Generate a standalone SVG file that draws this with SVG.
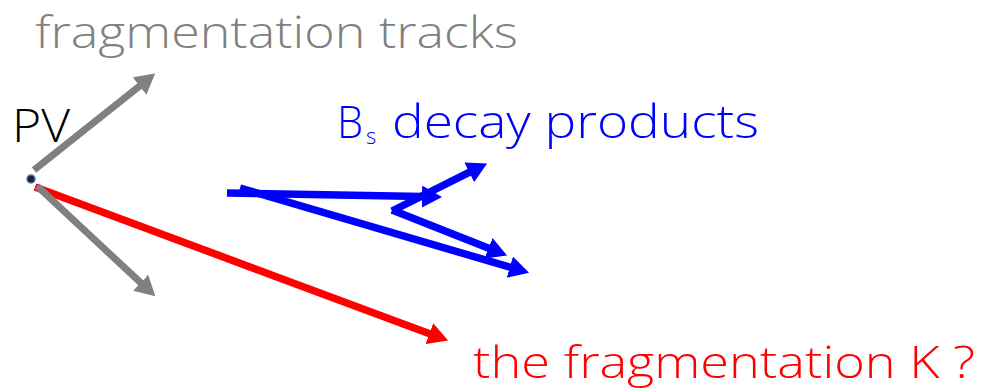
<svg xmlns="http://www.w3.org/2000/svg" width="986" height="391" viewBox="0 0 986 391">
<style>
text{font-family:"Open Sans","Liberation Sans",Arial,sans-serif;font-weight:300}
.g{stroke:#808080;stroke-width:7;fill:none}
.r{stroke:#ff0000;stroke-width:7.5;fill:none}
.b{stroke:#0000ff;stroke-width:7.5;fill:none}
</style>
<defs>
<marker id="ag" markerUnits="userSpaceOnUse" viewBox="0 0 20 22" markerWidth="20" markerHeight="22" refX="1" refY="11" orient="auto"><path d="M0,0 L20,11 L0,22 z" fill="#808080"/></marker>
<marker id="ar" markerUnits="userSpaceOnUse" viewBox="0 0 20 22" markerWidth="20" markerHeight="22" refX="1" refY="11" orient="auto"><path d="M0,0 L20,11 L0,22 z" fill="#ff0000"/></marker>
<marker id="ab" markerUnits="userSpaceOnUse" viewBox="0 0 20 22" markerWidth="20" markerHeight="22" refX="1" refY="11" orient="auto"><path d="M0,0 L20,11 L0,22 z" fill="#0000ff"/></marker>
</defs>
<rect width="986" height="391" fill="#fff"/>
<g id="connectors">
<line class="r" x1="35" y1="187" x2="430.3" y2="334" marker-end="url(#ar)"/>
<line class="g" x1="34" y1="170" x2="140.3" y2="85.4" marker-end="url(#ag)"/>
<line class="g" x1="37" y1="186" x2="141.4" y2="283.4" marker-end="url(#ag)"/>
<line class="b" x1="227" y1="193" x2="423" y2="196.6" marker-end="url(#ab)"/>
<line class="b" x1="392" y1="211" x2="470.1" y2="171.9" marker-end="url(#ab)"/>
<line class="b" x1="392" y1="210" x2="489.4" y2="248.6" marker-end="url(#ab)"/>
<line class="b" x1="240" y1="188" x2="510.8" y2="267.4" marker-end="url(#ab)"/>
</g>
<g id="pv">
<circle cx="31" cy="179" r="4" fill="#222" stroke="#4472c4" stroke-width="1.5"/>
<text x="12" y="142" font-size="46" fill="#000" textLength="58" lengthAdjust="spacingAndGlyphs">PV</text>
</g>
<g id="frag-tracks">
<text x="35" y="48" font-size="44" fill="#808080" textLength="483" lengthAdjust="spacingAndGlyphs">fragmentation tracks</text>
</g>
<g id="bs-label">
<text x="337" y="138" font-size="45" fill="#0000ff" textLength="26" lengthAdjust="spacingAndGlyphs">B</text>
<text x="366" y="144" font-size="22" fill="#0000ff">s</text>
<text x="392" y="138" font-size="46" fill="#0000ff" textLength="367" lengthAdjust="spacingAndGlyphs">decay products</text>
</g>
<g id="frag-k">
<text x="473" y="378" font-size="45" fill="#ff0000" textLength="502" lengthAdjust="spacingAndGlyphs">the fragmentation K ?</text>
</g>
</svg>
